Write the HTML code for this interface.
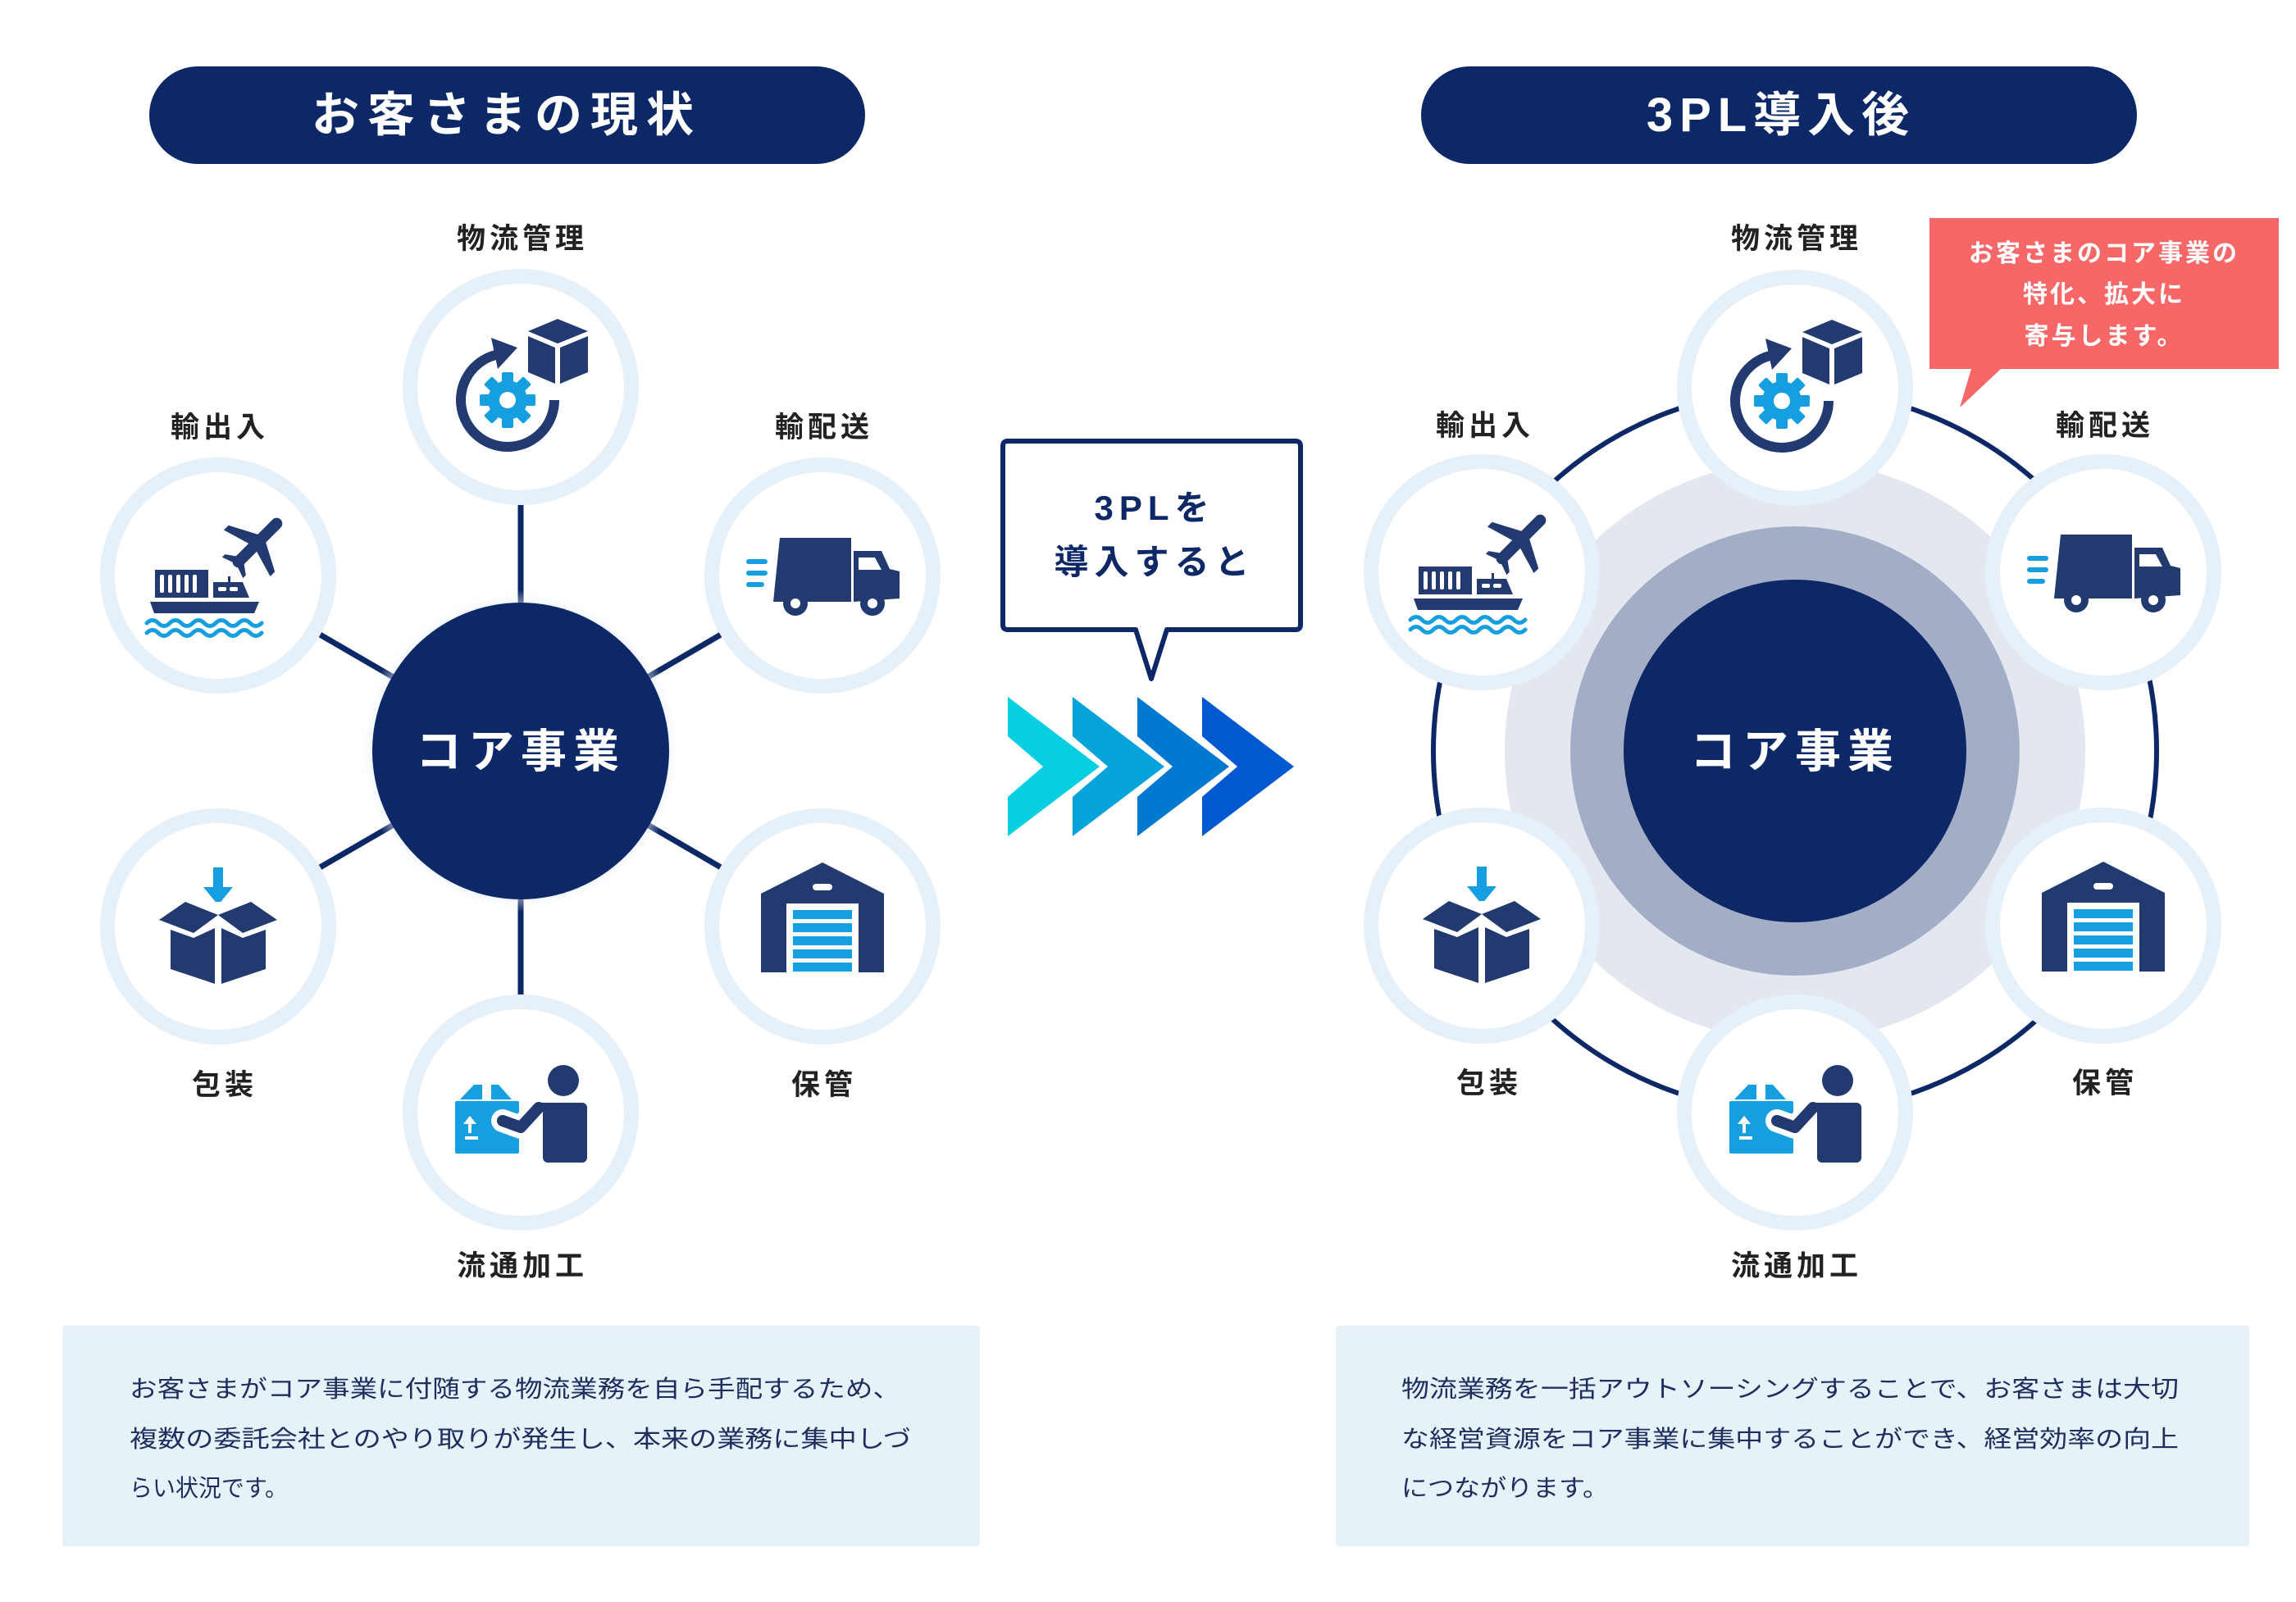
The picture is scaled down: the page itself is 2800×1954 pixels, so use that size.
<!DOCTYPE html>
<html><head><meta charset="utf-8"><style>
html,body{margin:0;padding:0;background:#fff;width:2800px;height:1954px;overflow:hidden}
svg{display:block}
text{font-family:"Liberation Sans","Noto Sans CJK JP",sans-serif}
</style></head><body>
<svg width="2800" height="1954" viewBox="0 0 2800 1954" xmlns="http://www.w3.org/2000/svg">
<defs>
<radialGradient id="glow" cx="50%" cy="50%" r="50%">
<stop offset="85%" stop-color="#c9dcf2" stop-opacity="0.9"/>
<stop offset="100%" stop-color="#ffffff" stop-opacity="0"/>
</radialGradient>
<g id="ic-gear">
<path d="M41,16 A57,57 0 1 1 -31,-39" fill="none" stroke="#223a70" stroke-width="12"/>
<polygon points="-36,-60 -4,-48 -28,-22" fill="#223a70"/>
<g transform="translate(-16,16)" fill="#169fe0">
<circle r="24"/>
<rect x="-7" y="-34" width="14" height="68" rx="2"/>
<rect x="-7" y="-34" width="14" height="68" rx="2" transform="rotate(45)"/>
<rect x="-7" y="-34" width="14" height="68" rx="2" transform="rotate(90)"/>
<rect x="-7" y="-34" width="14" height="68" rx="2" transform="rotate(135)"/>
<circle r="10" fill="#fff"/>
</g>
<polygon points="9,-68 45,-83 82,-68 45,-53" fill="#223a70"/>
<polygon points="9,-62 42,-48 42,-4 9,-18" fill="#223a70"/>
<polygon points="48,-48 82,-62 82,-18 48,-4" fill="#223a70"/>
</g>
<g id="ic-ship">
<rect x="-77" y="-7" width="65" height="34" fill="#223a70"/>
<g fill="#fff"><rect x="-71" y="-1" width="5" height="22" rx="2"/><rect x="-61" y="-1" width="5" height="22" rx="2"/><rect x="-51" y="-1" width="5" height="22" rx="2"/><rect x="-41" y="-1" width="5" height="22" rx="2"/><rect x="-31" y="-1" width="5" height="22" rx="2"/></g>
<polygon points="-6,8 30,8 38,27 -6,27" fill="#223a70"/>
<rect x="12" y="1" width="3" height="8" fill="#223a70"/>
<g fill="#fff"><rect x="0" y="14" width="10" height="5" rx="2"/><rect x="14" y="14" width="10" height="5" rx="2"/></g>
<path d="M-83,32 L50,32 L44,46 L-78,46 Z" fill="#223a70"/>
<path d="M-87,58 q7,-7 14,0 q7,7 14,0 q7,-7 14,0 q7,7 14,0 q7,-7 14,0 q7,7 14,0 q7,-7 14,0 q7,7 14,0 q7,-7 14,0 q7,7 14,0" fill="none" stroke="#169fe0" stroke-width="5" stroke-linecap="round"/>
<path d="M-87,70 q7,-7 14,0 q7,7 14,0 q7,-7 14,0 q7,7 14,0 q7,-7 14,0 q7,7 14,0 q7,-7 14,0 q7,7 14,0 q7,-7 14,0 q7,7 14,0" fill="none" stroke="#169fe0" stroke-width="5" stroke-linecap="round"/>
<g transform="translate(48,-40) rotate(45)" fill="#223a70">
<rect x="-7" y="-40" width="14" height="80" rx="7"/>
<polygon points="-6,-8 -40,10 -40,18 -6,8"/>
<polygon points="6,-8 40,10 40,18 6,8"/>
<polygon points="-4,28 -18,38 -18,43 -4,38"/>
<polygon points="4,28 18,38 18,43 4,38"/>
</g>
</g>
<g id="ic-truck">
<g fill="#169fe0"><rect x="-93" y="-20" width="26" height="6" rx="3"/><rect x="-93" y="-6" width="26" height="6" rx="3"/><rect x="-93" y="8" width="22" height="6" rx="3"/></g>
<polygon points="-52,-46 35,-46 35,32 -60,32" fill="#223a70"/>
<path d="M38,-30 L72,-30 L82,-8 L94,-5 L94,28 L38,32 Z" fill="#223a70"/>
<polygon points="44,-22 64,-22 72,-7 44,-7" fill="#fff"/>
<circle cx="-33" cy="34" r="15" fill="#223a70"/><circle cx="-33" cy="34" r="6" fill="#fff"/>
<circle cx="61" cy="34" r="15" fill="#223a70"/><circle cx="61" cy="34" r="6" fill="#fff"/>
</g>
<g id="ic-box">
<rect x="-6" y="-72" width="12" height="26" fill="#169fe0"/>
<polygon points="-18,-48 18,-48 0,-26" fill="#169fe0"/>
<polygon points="-40,-30 0,-14 40,-30 72,-8 30,8 0,-14 -30,8 -72,-8" fill="#223a70"/>
<polygon points="-58,4 -30,14 -4,2 -4,70 -58,52" fill="#223a70"/>
<polygon points="58,4 30,14 4,2 4,70 58,52" fill="#223a70"/>
<polygon points="-30,-30 30,-30 0,-20" fill="#fff"/>
</g>
<g id="ic-ware">
<path d="M-75,-40 L0,-78 L75,-40 L75,56 L-75,56 Z" fill="#223a70"/>
<rect x="-12" y="-52" width="24" height="8" rx="4" fill="#fff"/>
<rect x="-44" y="-28" width="88" height="86" fill="#fff"/>
<g fill="#169fe0"><rect x="-36" y="-20" width="72" height="11"/><rect x="-36" y="-4" width="72" height="11"/><rect x="-36" y="12" width="72" height="11"/><rect x="-36" y="28" width="72" height="11"/><rect x="-36" y="44" width="72" height="11"/></g>
</g>
<g id="ic-person">
<polygon points="-74,-16 -57,-34 -47,-34 -47,-16" fill="#169fe0"/>
<polygon points="-36,-34 -27,-34 -11,-16 -36,-16" fill="#169fe0"/>
<rect x="-80" y="-14" width="78" height="64" rx="2" fill="#169fe0"/>
<polygon points="-70,14 -62,4 -54,14" fill="#fff"/>
<rect x="-64" y="13" width="4" height="12" fill="#fff"/>
<rect x="-68" y="29" width="16" height="4" fill="#fff"/>
<path d="M-22,10 L0,18 L22,-6" fill="none" stroke="#fff" stroke-width="28" stroke-linecap="round" stroke-linejoin="round"/>
<path d="M-22,10 L0,18 L22,-6" fill="none" stroke="#223a70" stroke-width="14" stroke-linecap="round" stroke-linejoin="round"/>
<rect x="27" y="-12" width="54" height="73" rx="6" fill="#223a70"/>
<path d="M20,-12 L40,-12 L40,10 Z" fill="#223a70"/>
<circle cx="52" cy="-39" r="19" fill="#223a70"/>
</g>
<g id="sat"><circle r="135" fill="#fff" stroke="#e5f0f8" stroke-width="18"/></g>
</defs>

<!-- LEFT -->
<rect x="182" y="81" width="873" height="119" rx="59.5" fill="#0d2866"/>
<text x="618" y="160" font-size="58" font-weight="700" fill="#fff" text-anchor="middle" letter-spacing="10">お客さまの現状</text>

<g stroke="#0d2866" stroke-width="7">
<line x1="635" y1="916" x2="635" y2="472"/>
<line x1="635" y1="916" x2="635" y2="1357"/>
<line x1="635" y1="916" x2="266" y2="702"/>
<line x1="635" y1="916" x2="1003" y2="702"/>
<line x1="635" y1="916" x2="266" y2="1130"/>
<line x1="635" y1="916" x2="1003" y2="1130"/>
</g>
<circle cx="635" cy="916" r="196" fill="url(#glow)"/>
<circle cx="635" cy="916" r="181" fill="#0d2866"/>
<text x="635" y="936" font-size="56" font-weight="700" fill="#fff" text-anchor="middle" letter-spacing="8">コア事業</text>

<use href="#sat" x="635" y="472"/><use href="#ic-gear" x="635" y="472"/>
<use href="#sat" x="266" y="702"/><use href="#ic-ship" x="266" y="702"/>
<use href="#sat" x="1003" y="702"/><use href="#ic-truck" x="1003" y="702"/>
<use href="#sat" x="266" y="1130"/><use href="#ic-box" x="266" y="1130"/>
<use href="#sat" x="1003" y="1130"/><use href="#ic-ware" x="1003" y="1130"/>
<use href="#sat" x="635" y="1357"/><use href="#ic-person" x="635" y="1357"/>

<g font-size="35" font-weight="700" fill="#222" text-anchor="middle" letter-spacing="5">
<text x="637" y="303">物流管理</text>
<text x="268" y="533">輸出入</text>
<text x="1005" y="533">輸配送</text>
<text x="274" y="1335">包装</text>
<text x="1005" y="1335">保管</text>
<text x="637" y="1556">流通加工</text>
</g>

<rect x="76" y="1617" width="1119" height="269" rx="4" fill="#e6f1f8"/>
<g font-size="29" fill="#1f2e5e">
<text x="158" y="1704" textLength="940" lengthAdjust="spacingAndGlyphs">お客さまがコア事業に付随する物流業務を自ら手配するため、</text>
<text x="158" y="1765" textLength="953" lengthAdjust="spacingAndGlyphs">複数の委託会社とのやり取りが発生し、本来の業務に集中しづ</text>
<text x="158" y="1825" textLength="193" lengthAdjust="spacingAndGlyphs">らい状況です。</text>
</g>

<!-- MIDDLE -->
<path d="M1229,538 L1580,538 Q1586,538 1586,544 L1586,762 Q1586,768 1580,768 L1423,768 L1404,828 L1385,768 L1229,768 Q1223,768 1223,762 L1223,544 Q1223,538 1229,538 Z" fill="#fff" stroke="#0d2866" stroke-width="6" stroke-linejoin="round"/>
<g font-size="42" font-weight="700" fill="#0d2866" text-anchor="middle" letter-spacing="7">
<text x="1408" y="634">3PLを</text>
<text x="1408" y="700">導入すると</text>
</g>
<g>
<polygon points="1229,850 1341,935 1229,1020 1229,972 1272,935 1229,898" fill="#05cfe0"/>
<polygon points="1308,850 1420,935 1308,1020 1308,972 1351,935 1308,898" fill="#05a3dc"/>
<polygon points="1387,850 1499,935 1387,1020 1387,972 1430,935 1387,898" fill="#0279d1"/>
<polygon points="1466,850 1578,935 1466,1020 1466,972 1509,935 1466,898" fill="#0059d1"/>
</g>

<!-- RIGHT -->
<rect x="1733" y="81" width="873" height="119" rx="59.5" fill="#0d2866"/>
<text x="2172" y="160" font-size="58" font-weight="700" fill="#fff" text-anchor="middle" letter-spacing="8">3PL導入後</text>

<circle cx="2189" cy="916" r="441" fill="none" stroke="#0d2866" stroke-width="6"/>
<circle cx="2189" cy="916" r="354" fill="#e3e7ef"/>
<circle cx="2189" cy="916" r="274" fill="#a3adc6"/>
<circle cx="2189" cy="916" r="209" fill="#0d2866"/>
<text x="2189" y="936" font-size="56" font-weight="700" fill="#fff" text-anchor="middle" letter-spacing="8">コア事業</text>

<use href="#sat" x="2189" y="473"/><use href="#ic-gear" x="2189" y="473"/>
<use href="#sat" x="1807" y="698"/><use href="#ic-ship" x="1807" y="698"/>
<use href="#sat" x="2565" y="698"/><use href="#ic-truck" x="2565" y="698"/>
<use href="#sat" x="1807" y="1129"/><use href="#ic-box" x="1807" y="1129"/>
<use href="#sat" x="2565" y="1129"/><use href="#ic-ware" x="2565" y="1129"/>
<use href="#sat" x="2189" y="1357"/><use href="#ic-person" x="2189" y="1357"/>

<g font-size="35" font-weight="700" fill="#222" text-anchor="middle" letter-spacing="5">
<text x="2191" y="303">物流管理</text>
<text x="1811" y="531">輸出入</text>
<text x="2567" y="531">輸配送</text>
<text x="1816" y="1333">包装</text>
<text x="2567" y="1333">保管</text>
<text x="2191" y="1556">流通加工</text>
</g>

<path d="M2353,266 L2779,266 L2779,450 L2440,450 L2390,497 L2404,450 L2353,450 Z" fill="#f76767"/>
<g font-size="30" font-weight="700" fill="#fff" text-anchor="middle" letter-spacing="3">
<text x="2566" y="319">お客さまのコア事業の</text>
<text x="2566" y="369">特化、拡大に</text>
<text x="2566" y="420">寄与します。</text>
</g>

<rect x="1629" y="1617" width="1114" height="269" rx="4" fill="#e6f1f8"/>
<g font-size="29" fill="#1f2e5e">
<text x="1709" y="1704" textLength="948" lengthAdjust="spacingAndGlyphs">物流業務を一括アウトソーシングすることで、お客さまは大切</text>
<text x="1709" y="1765" textLength="948" lengthAdjust="spacingAndGlyphs">な経営資源をコア事業に集中することができ、経営効率の向上</text>
<text x="1709" y="1825" textLength="253" lengthAdjust="spacingAndGlyphs">につながります。</text>
</g>
</svg>
</body></html>
